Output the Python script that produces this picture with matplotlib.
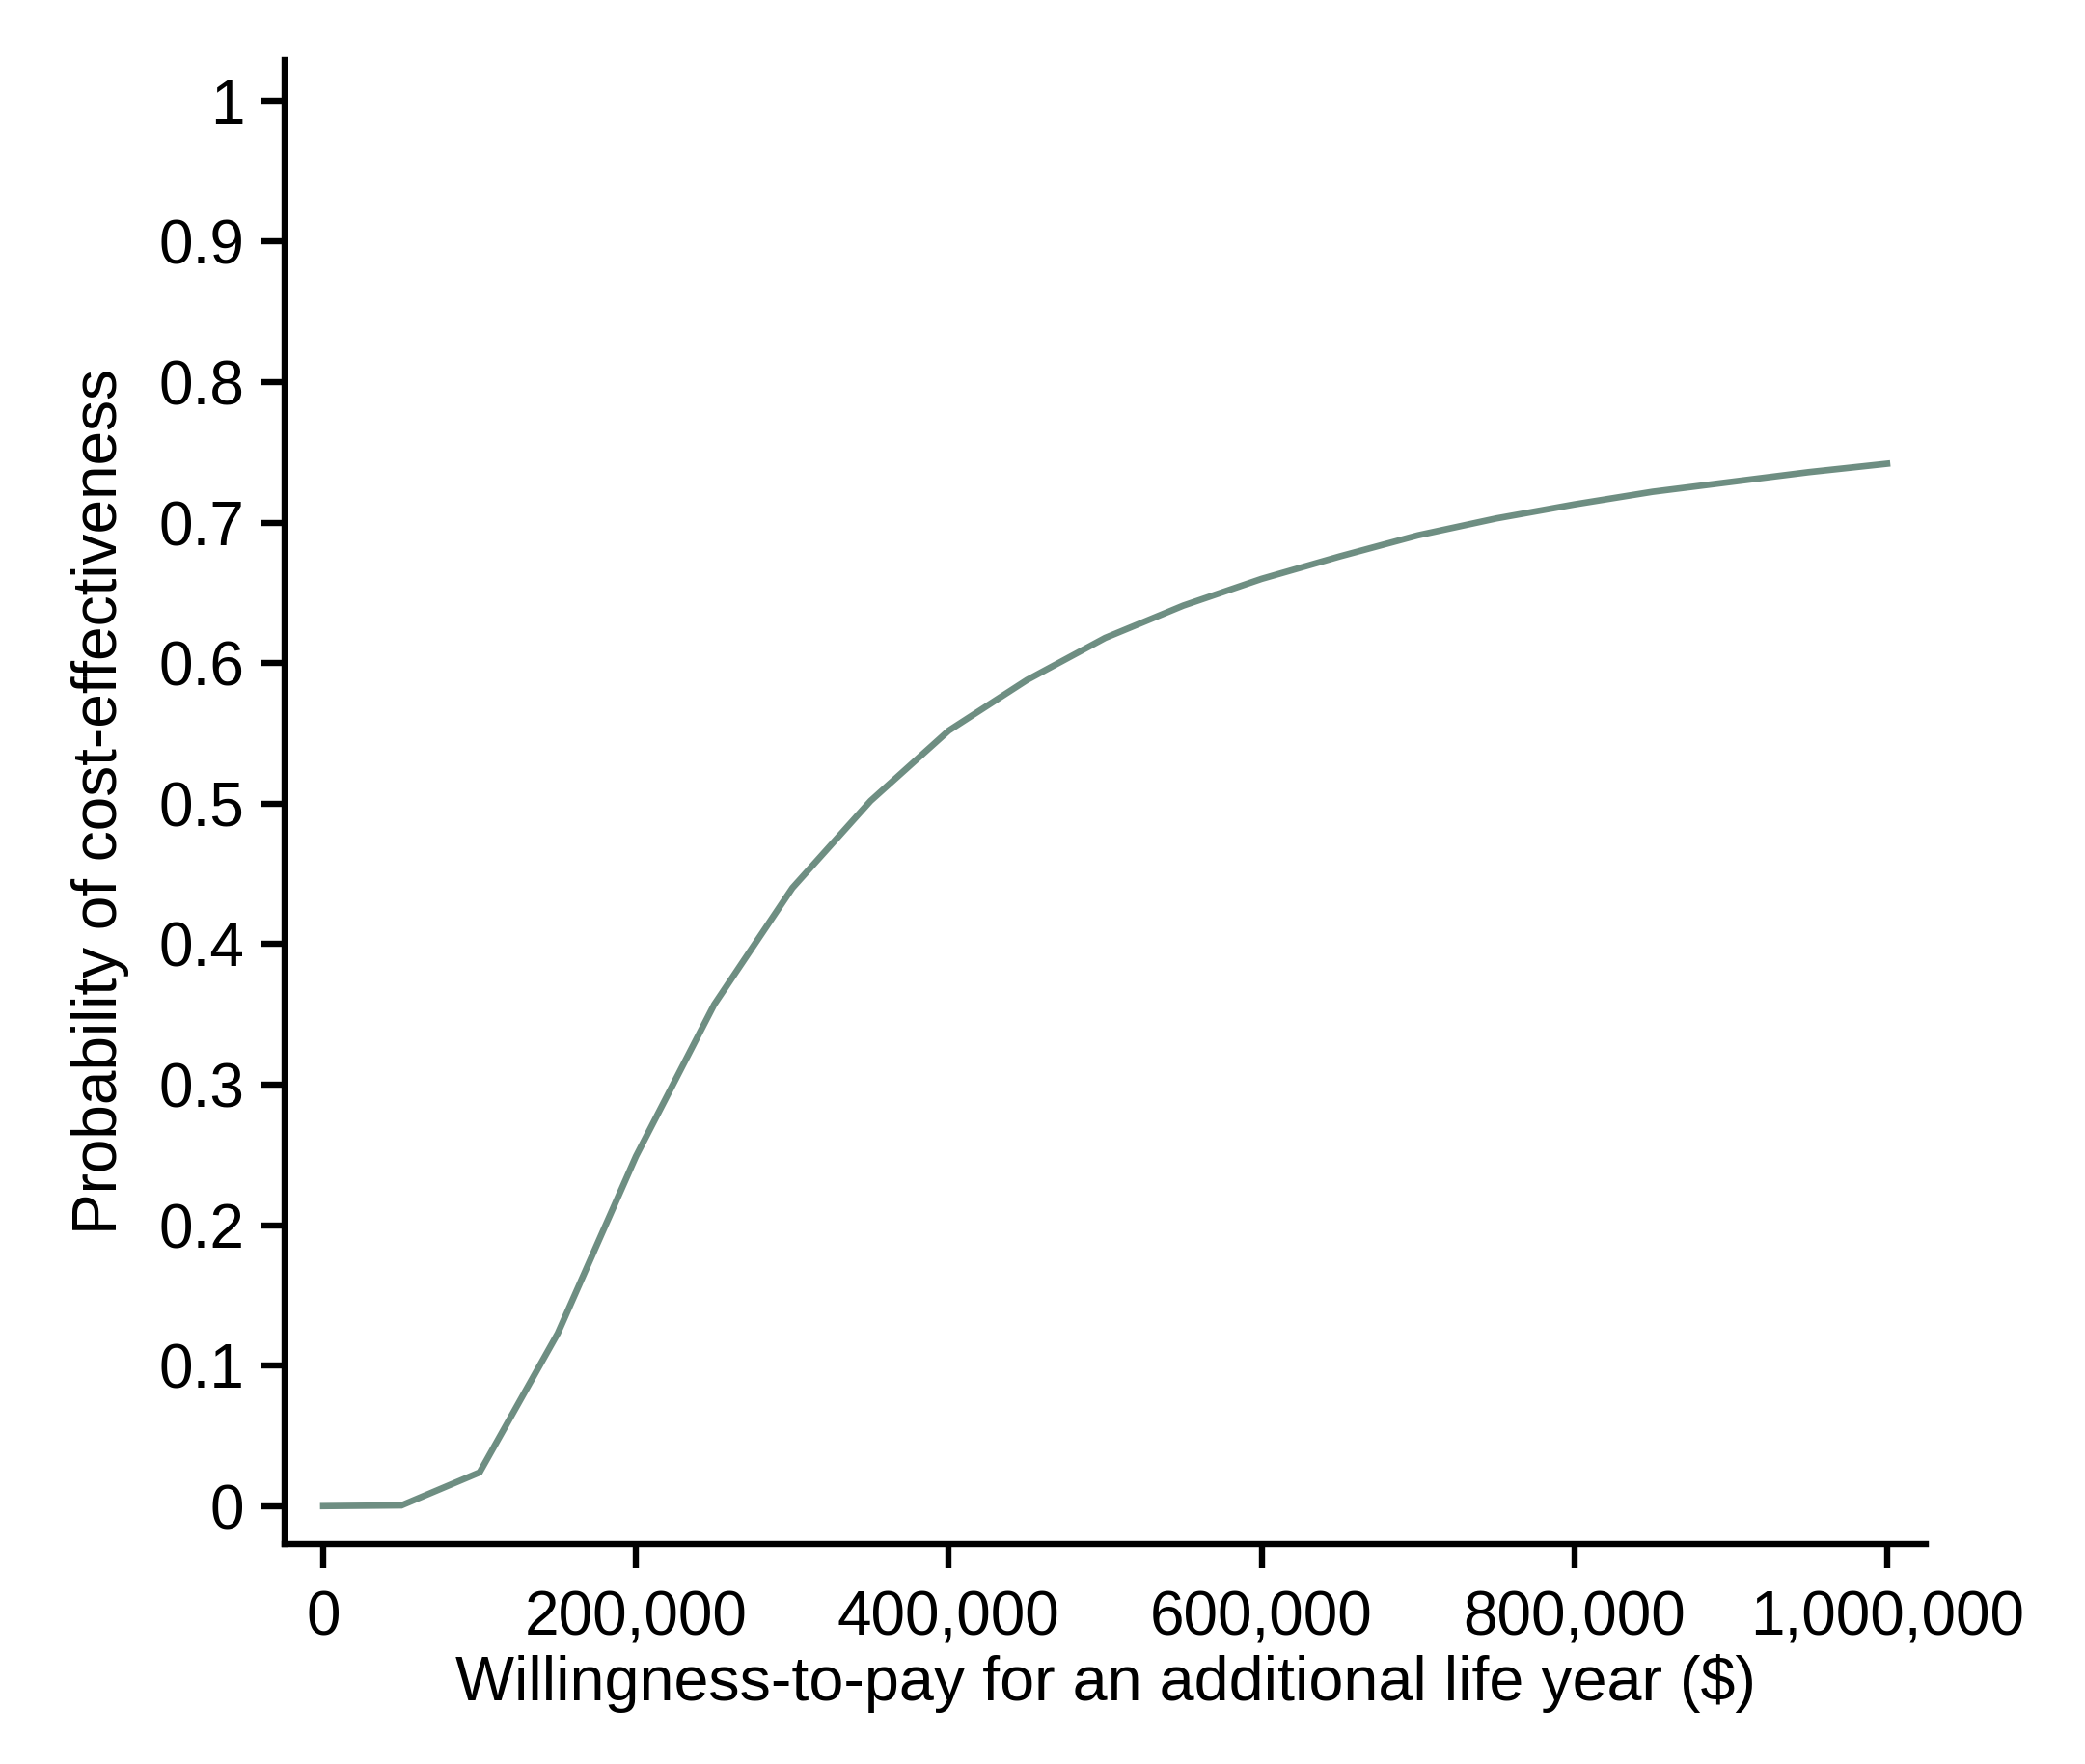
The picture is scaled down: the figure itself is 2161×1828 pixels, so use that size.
import numpy as np
import matplotlib.pyplot as plt

plt.rcParams['font.family'] = ['Liberation Sans', 'DejaVu Sans']

# willingness-to-pay thresholds and probability of cost-effectiveness
wtp = [0, 50000, 100000, 150000, 200000, 250000, 300000, 350000, 400000, 450000,
       500000, 550000, 600000, 650000, 700000, 750000, 800000, 850000, 900000,
       950000, 1000000]
prob = [0.0, 0.0005, 0.024, 0.123, 0.249, 0.357, 0.440, 0.502, 0.552, 0.588,
        0.618, 0.641, 0.660, 0.676, 0.691, 0.703, 0.713, 0.722, 0.729, 0.736, 0.742]

xticks = [0, 200000, 400000, 600000, 800000, 1000000]
xticklabels = ['0', '200,000', '400,000', '600,000', '800,000', '1,000,000']
yticks = [0, 0.1, 0.2, 0.3, 0.4, 0.5, 0.6, 0.7, 0.8, 0.9, 1]
yticklabels = ['0', '0.1', '0.2', '0.3', '0.4', '0.5', '0.6', '0.7', '0.8', '0.9', '1']

fig = plt.figure(figsize=(21.61, 18.28), dpi=100)
ax = fig.add_axes([0.1365, 0.1247, 0.7871, 0.8414])

ax.plot(wtp, prob, color='#6e8e82', linewidth=4.8, solid_joinstyle='miter')

ax.set_xlim(-24700, 1024700)
ax.set_ylim(-0.027, 1.0295)

ax.spines['top'].set_visible(False)
ax.spines['right'].set_visible(False)
for s in ['left', 'bottom']:
    ax.spines[s].set_linewidth(4.6)

ax.set_xticks(xticks)
ax.set_xticklabels(xticklabels)
ax.set_yticks(yticks)
ax.set_yticklabels(yticklabels)
ax.tick_params(axis='both', length=18, width=4.6, labelsize=46, color='black')
ax.tick_params(axis='x', pad=16)
ax.tick_params(axis='y', pad=12)

ax.set_xlabel('Willingness-to-pay for an additional life year ($)', fontsize=46.5, labelpad=5)
ax.set_ylabel('Probability of cost-effectiveness', fontsize=46, labelpad=22)

fig.savefig('out.png', dpi=100, facecolor='white')
